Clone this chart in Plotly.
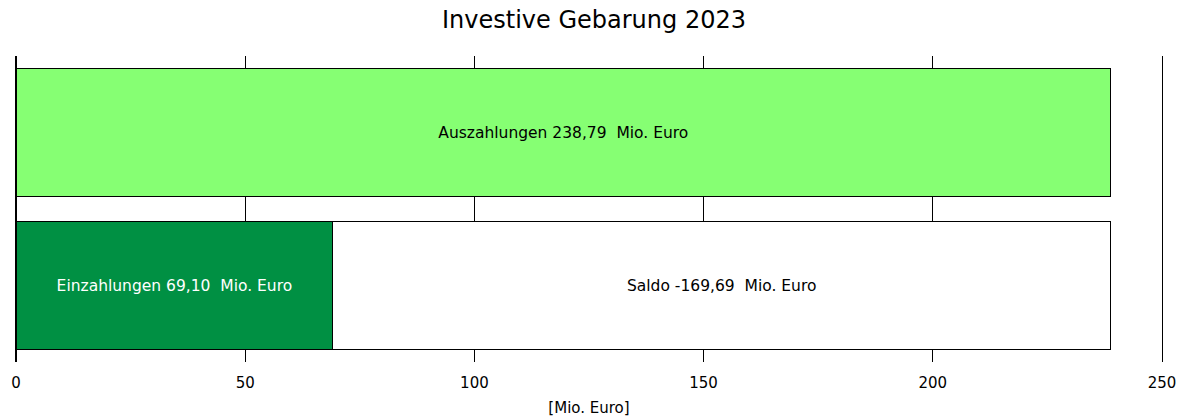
import plotly.graph_objects as go

# Data
rows = ["Auszahlungen", "Einzahlungen"]
auszahlungen = 238.79
einzahlungen = 69.10
saldo = round(einzahlungen - auszahlungen, 2)  # -169.69
tick_vals = [0, 50, 100, 150, 200, 250]

FONT = "Verdana, DejaVu Sans, sans-serif"
TXT = 15.5

def de(v):
    return f"{v:.2f}".replace(".", ",")

fig = go.Figure()
fig.add_trace(go.Bar(
    y=[rows[0]], x=[auszahlungen], orientation="h",
    marker=dict(color="#86FF73", line=dict(color="#000000", width=1)),
    text=[f"Auszahlungen {de(auszahlungen)} \u00a0Mio. Euro"],
    textposition="inside", insidetextanchor="middle",
    textfont=dict(color="#000000", size=TXT, family=FONT),
    constraintext="none", hoverinfo="skip", showlegend=False,
))
fig.add_trace(go.Bar(
    y=[rows[1]], x=[einzahlungen], orientation="h",
    marker=dict(color="#009043", line=dict(color="#000000", width=1)),
    text=[f"Einzahlungen {de(einzahlungen)} \u00a0Mio. Euro"],
    textposition="inside", insidetextanchor="middle",
    textfont=dict(color="#FFFFFF", size=TXT, family=FONT),
    constraintext="none", hoverinfo="skip", showlegend=False,
))
fig.add_trace(go.Bar(
    y=[rows[1]], x=[abs(saldo)], orientation="h",
    marker=dict(color="#FFFFFF", line=dict(color="#000000", width=1)),
    text=[f"Saldo {de(saldo)} \u00a0Mio. Euro"],
    textposition="inside", insidetextanchor="middle",
    textfont=dict(color="#000000", size=TXT, family=FONT),
    constraintext="none", hoverinfo="skip", showlegend=False,
))

fig.update_layout(
    width=1188, height=418,
    barmode="stack", bargap=0.163,
    paper_bgcolor="white", plot_bgcolor="white",
    margin=dict(l=16, r=26, t=56, b=56),
    font=dict(family=FONT, color="#000000", size=15),
    title=dict(text="Investive Gebarung 2023", x=0.5, xanchor="center",
               y=0.952, yanchor="middle", yref="container",
               font=dict(size=24, family=FONT, color="#000000")),
    xaxis=dict(range=[0, 250], tickvals=tick_vals, showgrid=True,
               gridcolor="#000000", gridwidth=1, zeroline=True,
               zerolinecolor="#000000", zerolinewidth=1, showline=False,
               ticks="outside", ticklen=7, tickcolor="rgba(0,0,0,0)",
               tickfont=dict(size=15, family=FONT), automargin=False,
               title=dict(text="[Mio. Euro]", standoff=11,
                          font=dict(size=15, family=FONT))),
    yaxis=dict(categoryorder="array", categoryarray=rows[::-1],
               showticklabels=False, showgrid=False, zeroline=False,
               showline=True, mirror=True, linecolor="#000000", linewidth=1,
               ticks="", automargin=False),
)

fig.write_html("out.html",
               config={"displayModeBar": False},
               post_script="document.body.style.margin='0';document.body.style.overflow='hidden';")
